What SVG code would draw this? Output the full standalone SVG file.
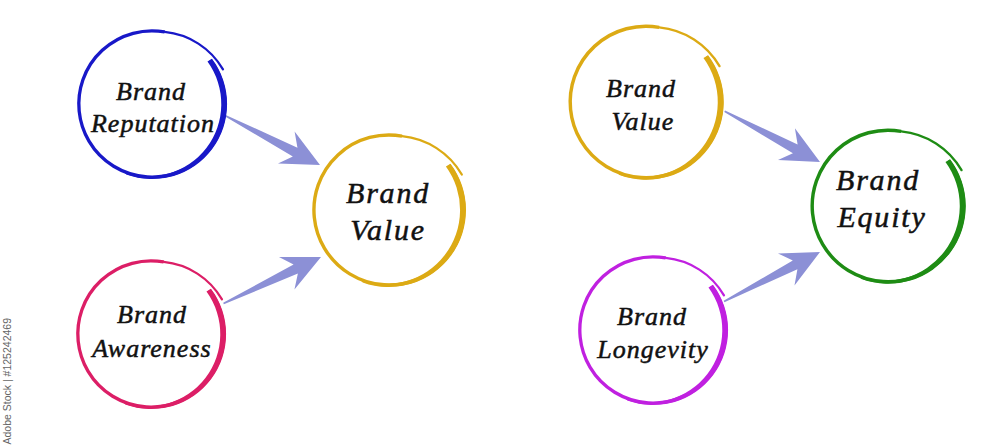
<svg xmlns="http://www.w3.org/2000/svg" xmlns:xlink="http://www.w3.org/1999/xlink" width="1000" height="447" viewBox="0 0 1000 447">
  <style>
    .lbl { font-family: "Liberation Serif", "Times New Roman", serif; font-style: italic; font-weight: normal; fill: #111; stroke: #111; stroke-width: 0.5px; text-anchor: middle; }
    .sm { font-size: 26px; letter-spacing: 1px; }
    .lg { font-size: 30px; letter-spacing: 1.8px; }
    .arrow { fill: #8c90d6; }
    .wm { font-family: "Liberation Sans", Arial, sans-serif; font-size: 10.5px; fill: #666; text-anchor: end; }
  </style>
  <defs>
    <g id="ring">
      <path d="M59.9,-45.1 A75,75 0 1 1 13.0,-73.9" fill="none" stroke="currentColor" stroke-width="3.4"/>
      <path d="M13.0,-73.9 A78,78 0 0 1 72.8,-35.5" fill="none" stroke="currentColor" stroke-width="2.3" stroke-linecap="round"/>
      <path d="M61.5,-46.3 A77,77 0 0 1 -26.3,72.4 L-29.5,69.1 A74,74 0 0 0 56.9,-43.5 Z" fill="currentColor" stroke="none"/>
    </g>
    <path id="arr" d="M0,0 L-38,-18 L-28,-5 L-108,-0.8 L-108,0.8 L-28,5 L-38,18 Z"/>
  </defs>
  <rect width="1000" height="447" fill="#ffffff"/>

  <g id="connectors" class="arrow">
    <use xlink:href="#arr" transform="translate(320,165) rotate(27.5)"/>
    <use xlink:href="#arr" transform="translate(321,257) rotate(-25.5)"/>
    <use xlink:href="#arr" transform="translate(820,162) rotate(28)"/>
    <use xlink:href="#arr" transform="translate(820,252) rotate(-27.3)"/>
  </g>

  <g id="brand-reputation">
    <use xlink:href="#ring" color="#1818c8" transform="translate(152,104) scale(0.975)"/>
    <text class="lbl sm" x="151" y="100">Brand</text>
    <text class="lbl sm" x="153" y="132">Reputation</text>
  </g>

  <g id="brand-awareness">
    <use xlink:href="#ring" color="#dc1e66" transform="translate(151,334) scale(0.975)"/>
    <text class="lbl sm" x="152" y="323">Brand</text>
    <text class="lbl sm" x="152" y="357">Awareness</text>
  </g>

  <g id="brand-value-left">
    <use xlink:href="#ring" color="#dcaa14" transform="translate(389,210)"/>
    <text class="lbl lg" x="388" y="203">Brand</text>
    <text class="lbl lg" x="388" y="240">Value</text>
  </g>

  <g id="brand-value-right">
    <use xlink:href="#ring" color="#dcaa14" transform="translate(646,102) scale(1.01)"/>
    <text class="lbl sm" x="641" y="97">Brand</text>
    <text class="lbl sm" x="643" y="130">Value</text>
  </g>

  <g id="brand-equity">
    <use xlink:href="#ring" color="#1e8c14" transform="translate(888,206) scale(1.01)"/>
    <text class="lbl lg" x="878" y="190">Brand</text>
    <text class="lbl lg" x="882" y="227">Equity</text>
  </g>

  <g id="brand-longevity">
    <use xlink:href="#ring" color="#c020e0" transform="translate(653,330) scale(0.975)"/>
    <text class="lbl sm" x="652" y="325">Brand</text>
    <text class="lbl sm" x="653" y="358">Longevity</text>
  </g>

  <text class="wm" transform="translate(11,318) rotate(-90)">Adobe Stock | #125242469</text>
</svg>
